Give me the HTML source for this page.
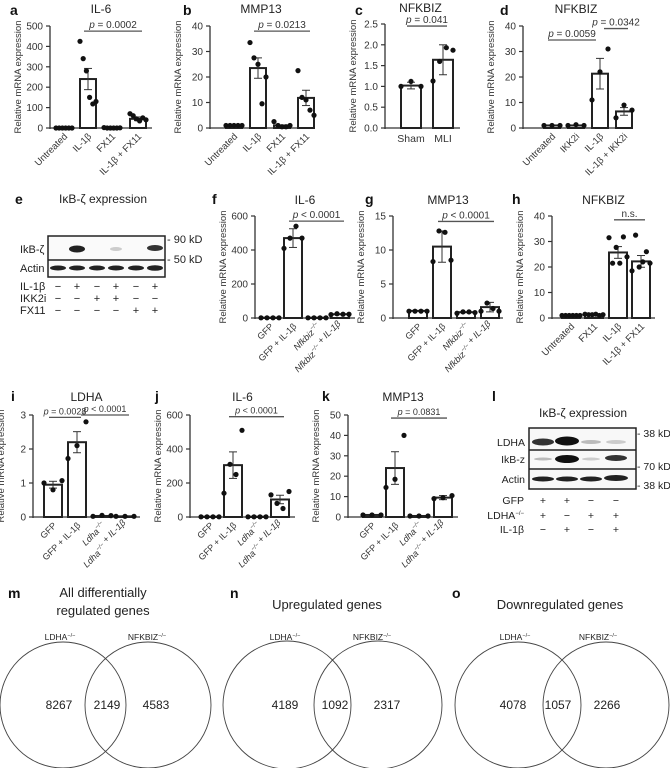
<!DOCTYPE html>
<html><head><meta charset="utf-8"><style>
html,body{margin:0;padding:0;background:#fff;}
svg{display:block;font-family:"Liberation Sans",sans-serif;}
</style></head><body>
<svg id="s" width="670" height="768" viewBox="0 0 670 768" xmlns="http://www.w3.org/2000/svg">
<g fill="#111" font-size="14" font-weight="bold">
<text x="10" y="15">a</text><text x="183" y="15">b</text><text x="355" y="15">c</text><text x="500" y="15">d</text>
<text x="15" y="204">e</text><text x="212" y="204">f</text><text x="365" y="204">g</text><text x="512" y="204">h</text>
<text x="11" y="401">i</text><text x="155" y="401">j</text><text x="322" y="401">k</text><text x="492" y="401">l</text>
<text x="8" y="598">m</text><text x="230" y="598">n</text><text x="452" y="598">o</text>
</g>
<g id="charts"></g>
<!-- blot e -->
<g font-size="11" fill="#222">
<text x="103" y="203" text-anchor="middle" font-size="12">IκB-ζ expression</text>
<rect x="48" y="236" width="117" height="41" fill="#fafafa" stroke="#222" stroke-width="1.5"/>
<line x1="48" y1="260" x2="165" y2="260" stroke="#222" stroke-width="1.5"/>
<ellipse cx="77" cy="249" rx="8" ry="3.5" fill="#222"/>
<ellipse cx="116" cy="249" rx="6" ry="2" fill="#ccc"/>
<ellipse cx="155" cy="248" rx="8" ry="3" fill="#333"/>
<g fill="#222"><ellipse cx="58" cy="268" rx="8" ry="2.5"/><ellipse cx="77" cy="268" rx="8" ry="2.5"/><ellipse cx="97" cy="268" rx="8" ry="2.5"/><ellipse cx="116" cy="268" rx="8" ry="2.5"/><ellipse cx="136" cy="268" rx="8" ry="2.5"/><ellipse cx="155" cy="268" rx="8" ry="2.8"/></g>
<text x="20" y="253">IkB-ζ</text><text x="20" y="272">Actin</text>
<text x="167" y="243">- 90 kD</text><text x="167" y="263">- 50 kD</text>
<text x="20" y="290">IL-1β</text><text x="20" y="302">IKK2i</text><text x="20" y="314">FX11</text>
<g text-anchor="middle">
<text x="58" y="290">−</text><text x="77" y="290">+</text><text x="97" y="290">−</text><text x="116" y="290">+</text><text x="136" y="290">−</text><text x="155" y="290">+</text>
<text x="58" y="302">−</text><text x="77" y="302">−</text><text x="97" y="302">+</text><text x="116" y="302">+</text><text x="136" y="302">−</text><text x="155" y="302">−</text>
<text x="58" y="314">−</text><text x="77" y="314">−</text><text x="97" y="314">−</text><text x="116" y="314">−</text><text x="136" y="314">+</text><text x="155" y="314">+</text>
</g>
</g>
<!-- blot l -->
<g font-size="10.5" fill="#222">
<text x="583" y="417" text-anchor="middle" font-size="12">IκB-ζ expression</text>
<rect x="529" y="428" width="107" height="61" fill="#f8f8f8" stroke="#222" stroke-width="1.5"/>
<line x1="529" y1="450" x2="636" y2="450" stroke="#222" stroke-width="1.5"/>
<line x1="529" y1="469" x2="636" y2="469" stroke="#222" stroke-width="1.5"/>
<ellipse cx="543" cy="442" rx="11" ry="3.5" fill="#333"/><ellipse cx="567" cy="441" rx="12" ry="4.5" fill="#111"/>
<ellipse cx="591" cy="442" rx="10" ry="2" fill="#bbb"/><ellipse cx="616" cy="442" rx="10" ry="2" fill="#ccc"/>
<ellipse cx="543" cy="459" rx="9" ry="1.5" fill="#bbb"/><ellipse cx="567" cy="459" rx="12" ry="4" fill="#111"/>
<ellipse cx="591" cy="459" rx="9" ry="1.5" fill="#ccc"/><ellipse cx="616" cy="458" rx="11" ry="3" fill="#333"/>
<g fill="#222"><ellipse cx="543" cy="479" rx="11" ry="2.5"/><ellipse cx="567" cy="479" rx="11" ry="2.5"/><ellipse cx="591" cy="479" rx="11" ry="2.5"/><ellipse cx="616" cy="478" rx="12" ry="3"/></g>
<g text-anchor="end"><text x="525" y="446">LDHA</text><text x="525" y="463">IkB-z</text><text x="525" y="483">Actin</text>
<text x="524" y="504">GFP</text><text x="524" y="519">LDHA<tspan font-size="6" dy="-4">−/−</tspan></text><text x="524" y="533">IL-1β</text></g>
<text x="637" y="437">- 38 kD</text><text x="637" y="470">- 70 kD</text><text x="637" y="489">- 38 kD</text>
<g text-anchor="middle">
<text x="543" y="504">+</text><text x="567" y="504">+</text><text x="591" y="504">−</text><text x="616" y="504">−</text>
<text x="543" y="519">+</text><text x="567" y="519">−</text><text x="591" y="519">+</text><text x="616" y="519">+</text>
<text x="543" y="533">−</text><text x="567" y="533">+</text><text x="591" y="533">−</text><text x="616" y="533">+</text>
</g>
</g>
<!-- venns -->
<g fill="none" stroke="#444" stroke-width="0.9">
<circle cx="63" cy="705" r="63"/><circle cx="148" cy="705" r="63"/>
<circle cx="287" cy="705" r="64"/><circle cx="378" cy="705" r="64"/>
<circle cx="518" cy="705" r="63"/><circle cx="606" cy="705" r="63"/>
</g>
<g fill="#222" font-size="12" text-anchor="middle">
<text x="103" y="597" font-size="13">All differentially</text><text x="103" y="615" font-size="13">regulated genes</text>
<text x="327" y="609" font-size="13">Upregulated genes</text>
<text x="560" y="609" font-size="13">Downregulated genes</text>
<text x="59" y="709">8267</text><text x="107" y="709">2149</text><text x="156" y="709">4583</text>
<text x="285" y="709">4189</text><text x="335" y="709">1092</text><text x="387" y="709">2317</text>
<text x="513" y="709">4078</text><text x="558" y="709">1057</text><text x="607" y="709">2266</text>
<g font-size="8.5">
<text x="60" y="640">LDHA<tspan font-size="5.5" dy="-3">−/−</tspan></text><text x="147" y="640">NFKBIZ<tspan font-size="5.5" dy="-3">−/−</tspan></text>
<text x="285" y="640">LDHA<tspan font-size="5.5" dy="-3">−/−</tspan></text><text x="372" y="640">NFKBIZ<tspan font-size="5.5" dy="-3">−/−</tspan></text>
<text x="515" y="640">LDHA<tspan font-size="5.5" dy="-3">−/−</tspan></text><text x="598" y="640">NFKBIZ<tspan font-size="5.5" dy="-3">−/−</tspan></text>
</g>
</g>
</svg>
<script>
var NS="http://www.w3.org/2000/svg",G=document.getElementById("charts");
function el(t,a,txt,p){var e=document.createElementNS(NS,t);for(var k in a)e.setAttribute(k,a[k]);if(txt!=null)e.innerHTML=txt;(p||G).appendChild(e);return e;}
var KO='<tspan font-size="6" dy="-4">−/−</tspan><tspan dy="4"></tspan>';
function chart(c){
 var ax=c.ax,y0=c.y0,yt=c.yt,xe=c.xe,sc=(y0-yt)/c.max;
 function Y(v){return y0-v*sc;}
 el("text",{x:(ax+xe)/2+(c.tdx||0),y:c.ty,"text-anchor":"middle","font-size":12,fill:"#222"},c.title);
 el("line",{x1:ax,y1:y0+1,x2:ax,y2:yt,stroke:"#333","stroke-width":1.3});
 el("line",{x1:ax,y1:y0,x2:xe,y2:y0,stroke:"#333","stroke-width":1.3});
 c.ticks.forEach(function(t){var y=Y(t);el("line",{x1:ax-4,y1:y,x2:ax,y2:y,stroke:"#333","stroke-width":1.2});
  el("text",{x:ax-7,y:y+3.5,"text-anchor":"end","font-size":10,fill:"#333"},c.fmt?t.toFixed(1):t);});
 el("text",{transform:"translate("+(ax-29)+","+((y0+yt)/2)+") rotate(-90)","text-anchor":"middle","font-size":9.5,fill:"#333"},"Relative mRNA expression");
 var bw=c.bw||16;
 c.g.forEach(function(g,i){var cx=c.xs[i],ym=Y(g.m);
  el("rect",{x:cx-bw/2,y:ym,width:bw,height:y0-ym,fill:"#fff",stroke:"#222","stroke-width":2});
  if(g.e){el("line",{x1:cx,y1:Y(g.m-g.e),x2:cx,y2:Y(g.m+g.e),stroke:"#333","stroke-width":1});
   [g.m-g.e,g.m+g.e].forEach(function(v){el("line",{x1:cx-4,y1:Y(v),x2:cx+4,y2:Y(v),stroke:"#333","stroke-width":1});});}
  var n=g.d.length;g.d.forEach(function(v,j){var dx=n>1?(j-(n-1)/2)*(bw/(n-1))*1.0:0;
   el("circle",{cx:cx+dx,cy:Y(v),r:2.6,fill:"#111"});});
  if(c.lab){var L=c.lab[i];
   if(c.rot===false)el("text",{x:cx,y:y0+14,"text-anchor":"middle","font-size":10.5,fill:"#333"},L);
   else el("text",{transform:"translate("+(cx+4)+","+(y0+9)+") rotate(-45)","text-anchor":"end","font-size":c.lfs||9.5,fill:"#333","font-style":c.ital&&c.ital[i]?"italic":"normal"},L);}
 });
 (c.p||[]).forEach(function(p){var y=Y(p.y),x1=c.xs[p.a]-(p.ex1||4),x2=c.xs[p.b]+(p.ex2||4);
  el("line",{x1:x1,y1:y,x2:x2,y2:y,stroke:"#555","stroke-width":1.3});
  el("text",{x:(x1+x2)/2+(p.dx||0),y:y-3,"text-anchor":"middle","font-size":p.fs||10,fill:"#333"},p.t);});
}
var P='<tspan font-style="italic">p</tspan>';
chart({title:"IL-6",ty:13,ax:50,y0:128,yt:26,xe:152,max:500,ticks:[0,100,200,300,400,500],xs:[64,88,112,138],
 g:[{m:2,d:[0,0,0,0,0,0]},{m:240,e:52,d:[425,340,280,150,118,130]},{m:2,d:[2,0,0,0,0,1]},{m:45,e:9,d:[70,60,45,35,50,40]}],
 lab:["Untreated","IL-1β","FX11","IL-1β + FX11"],p:[{a:1,b:3,y:475,t:P+" = 0.0002"}]});
chart({title:"MMP13",ty:13,ax:210,y0:128,yt:26,xe:312,max:40,ticks:[0,10,20,30,40],xs:[234,258,282,306],
 g:[{m:1,d:[1,1,1,1,1]},{m:23.5,e:4,d:[33.5,27.5,25,9.5,20]},{m:1,d:[2.5,1,0.5,0.5,1]},{m:11.8,e:3,d:[22.5,12,11,7,5]}],
 lab:["Untreated","IL-1β","FX11","IL-1β + FX11"],p:[{a:1,b:3,y:38,t:P+" = 0.0213"}]});
chart({title:"NFKBIZ",ty:12,tdx:-2,ax:385,y0:128,yt:24,xe:460,max:2.5,fmt:1,ticks:[0,0.5,1,1.5,2,2.5],xs:[411,443],bw:20,
 g:[{m:1.02,e:0.08,d:[1.0,1.12,1.0]},{m:1.64,e:0.36,d:[1.13,1.6,1.93,1.87]}],rot:false,
 lab:["Sham","MLI"],p:[{a:0,b:1,y:2.45,t:P+" = 0.041",ex1:0,ex2:0}]});
chart({title:"NFKBIZ",ty:13,tdx:-2,ax:523,y0:128,yt:26,xe:633,max:40,ticks:[0,10,20,30,40],xs:[552,576,600,624],
 g:[{m:1,d:[1,1,1]},{m:1,d:[1,1.3,1]},{m:21.3,e:6,d:[11,22,31]},{m:6.5,e:1.5,d:[4,9,7]}],
 lab:["Untreated","IKK2i","IL-1β","IL-1β + IKK2i"],p:[{a:0,b:2,y:34.5,t:P+" = 0.0059",ex2:-4},{a:2,b:3,y:39,t:P+" = 0.0342",ex1:-4}]});
var GL=["GFP","GFP + IL-1β","<tspan>Nfkbiz</tspan>"+KO,"Nfkbiz"+KO+" + IL-1β"];
chart({title:"IL-6",ty:204,ax:255,y0:318,yt:216,xe:355,max:600,ticks:[0,200,400,600],xs:[270,293,317,340],bw:18,
 g:[{m:2,d:[1,1,1,1]},{m:470,e:55,d:[410,470,540,470]},{m:2,d:[1,1,1,1]},{m:22,d:[20,25,22,22]}],lfs:9,
 lab:GL,ital:[0,0,1,1],p:[{a:1,b:3,y:570,t:P+" &lt; 0.0001"}]});
chart({title:"MMP13",ty:204,ax:393,y0:318,yt:216,xe:503,max:15,ticks:[0,5,10,15],xs:[418,442,466,490],bw:18,
 g:[{m:1.05,d:[1,1,1,1]},{m:10.5,e:2.3,d:[8.3,12.8,12.6,8.5]},{m:0.85,d:[0.7,0.9,0.9,0.8]},{m:1.6,e:0.7,d:[1.0,2.2,1.4,1.0]}],lfs:9,
 lab:GL,ital:[0,0,1,1],p:[{a:1,b:3,y:14.2,t:P+" &lt; 0.0001"}]});
chart({title:"NFKBIZ",ty:204,ax:552,y0:318,yt:216,xe:655,max:40,ticks:[0,10,20,30,40],xs:[571,594,618,641],bw:18,
 g:[{m:1,d:[1,1,1,1,1,1]},{m:1.3,d:[1.5,1.3,1.3,1.5,1,1.3]},{m:25.7,e:2.3,d:[31.5,21.5,27.7,21.5,31.8,24]},{m:22.2,e:2.3,d:[18.5,32.5,20,22,26,21.5]}],
 lab:["Untreated","FX11","IL-1β","IL-1β + FX11"],p:[{a:2,b:3,y:38.5,t:"n.s."}]});
var LL=["GFP","GFP + IL-1β","<tspan>Ldha</tspan>"+KO,"Ldha"+KO+" + IL-1β"];
chart({title:"LDHA",ty:401,ax:33,y0:517,yt:415,xe:140,max:3,ticks:[0,1,2,3],xs:[53,77,102,125],bw:18,
 g:[{m:0.95,e:0.1,d:[1.0,0.8,1.07]},{m:2.2,e:0.31,d:[1.72,2.1,2.8]},{m:0.03,d:[0.02,0.05,0.04]},{m:0.02,d:[0.02,0.02,0.02]}],lfs:9,
 lab:LL,ital:[0,0,1,1],p:[{a:0,b:1,y:2.93,t:P+" = 0.0028",fs:9},{a:1,b:3,y:3.0,t:P+" &lt; 0.0001",fs:9,ex1:-4}]});
chart({title:"IL-6",ty:401,ax:190,y0:517,yt:415,xe:295,max:600,ticks:[0,200,400,600],xs:[210,233,257,280],bw:18,
 g:[{m:2,d:[1,1,1,1]},{m:305,e:78,d:[140,310,250,510]},{m:2,d:[1,1,1,1]},{m:103,e:25,d:[130,80,50,150]}],lfs:9,
 lab:LL,ital:[0,0,1,1],p:[{a:1,b:3,y:590,t:P+" &lt; 0.0001",fs:9}]});
chart({title:"MMP13",ty:401,ax:348,y0:517,yt:415,xe:458,max:50,ticks:[0,10,20,30,40,50],xs:[372,395,419,443],bw:18,
 g:[{m:1,d:[1,1,1]},{m:24,e:8,d:[14.5,18.5,40]},{m:0.5,d:[0.5,0.5,0.5]},{m:9.5,e:1,d:[9,9.5,10.5]}],lfs:9,
 lab:LL,ital:[0,0,1,1],p:[{a:1,b:3,y:48.5,t:P+" = 0.0831",fs:9}]});
</script>
</body></html>
